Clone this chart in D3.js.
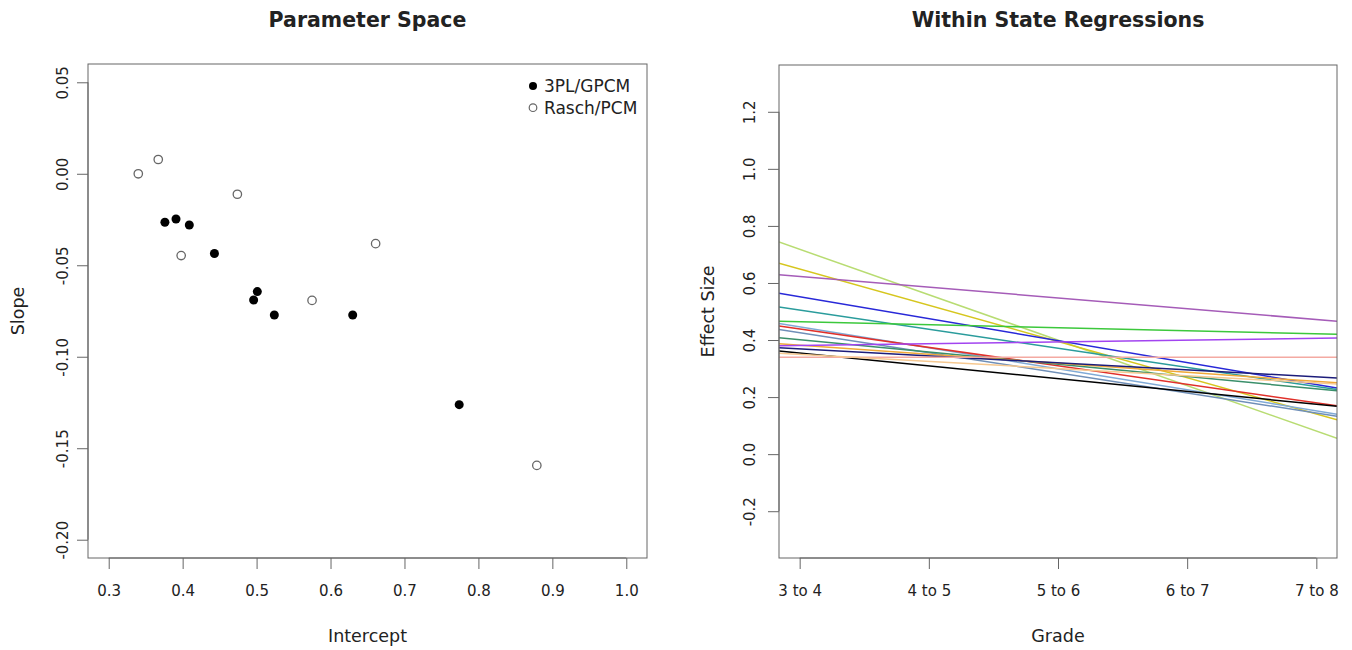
<!DOCTYPE html>
<html><head><meta charset="utf-8">
<script src="https://cdn.jsdelivr.net/npm/d3@7"></script>
<style>
body{margin:0;background:#fff;}
text{font-family:"DejaVu Sans",Verdana,sans-serif;fill:#222;}
</style></head>
<body><svg id="c" width="1352" height="650"></svg>
<script>
// ---- Left panel data: Parameter Space ----
const gpcmIntercept = [0.376,0.391,0.409,0.443,0.501,0.496,0.524,0.630,0.774];
const gpcmSlope     = [-0.0265,-0.0247,-0.0280,-0.0436,-0.0644,-0.0690,-0.0772,-0.0772,-0.1262];
const raschIntercept = [0.340,0.367,0.474,0.398,0.661,0.575,0.879];
const raschSlope     = [0.000,0.0078,-0.0112,-0.0447,-0.0382,-0.0692,-0.1594];
const leftXTicks = [0.3,0.4,0.5,0.6,0.7,0.8,0.9,1.0];
const leftYTicks = [0.05,0.00,-0.05,-0.10,-0.15,-0.20];
const legendLabels = ["3PL/GPCM","Rasch/PCM"];

// ---- Right panel data: Within State Regressions ----
const grades = ["3 to 4","4 to 5","5 to 6","6 to 7","7 to 8"];
const lineStart = [0.718,0.649,0.623,0.552,0.505,0.464,0.446,0.439,0.426,0.401,0.382,0.381,0.369,0.354,0.340,0.350]; // effect at "3 to 4"
const lineEnd   = [0.081,0.141,0.472,0.244,0.237,0.422,0.152,0.180,0.144,0.229,0.255,0.406,0.271,0.175,0.340,0.250]; // effect at "7 to 8"
const lineColors = ["#b8dc72","#d6c61e","#a55cb8","#2828d8","#2a9c9c","#3cc83c","#80aad6","#e0302a","#6f8fb8","#3a8f6a","#f0a838","#a244f0","#1c1c7a","#000000","#f4aaa2","#f6c890"];
const rightYTicks = [-0.2,0.0,0.2,0.4,0.6,0.8,1.0,1.2];

const svg = d3.select("#c");
const axisCol = "#666";
const hy = f => d => f(d).replace("\u2212","-");

function styleAxis(g){
  g.selectAll("path").attr("stroke",axisCol);
  g.selectAll("line").attr("stroke",axisCol);
  g.selectAll("text").attr("fill","#222").style("font-size","15px").style("font-family","'DejaVu Sans',Verdana,sans-serif");
}

// ===== Left panel =====
const L = {l:88,r:647,t:64,b:558};
const xL = d3.scaleLinear().domain([0.272,1.028]).range([L.l,L.r]);
const yL = d3.scaleLinear().domain([-0.21,0.06]).range([L.b,L.t]);

svg.append("rect").attr("x",L.l).attr("y",L.t).attr("width",L.r-L.l).attr("height",L.b-L.t)
  .attr("fill","none").attr("stroke",axisCol).attr("stroke-width",1);

const gxL = svg.append("g").attr("transform",`translate(0,${L.b})`)
  .call(d3.axisBottom(xL).tickValues(leftXTicks).tickFormat(d3.format(".1f")).tickSizeOuter(0).tickSizeInner(11).tickPadding(16));
styleAxis(gxL);
gxL.select("path.domain").attr("d",`M${xL(0.3)},0H${xL(1.0)}`);

const gyL = svg.append("g").attr("transform",`translate(${L.l},0)`)
  .call(d3.axisLeft(yL).tickValues(leftYTicks).tickFormat(hy(d3.format(".2f"))).tickSizeOuter(0).tickSizeInner(11));
styleAxis(gyL);
gyL.select("path.domain").attr("d",`M0,${yL(-0.20)}V${yL(0.05)}`);
gyL.selectAll(".tick text").attr("transform","rotate(-90)").attr("x",0).attr("y",-20).attr("dy",0).attr("text-anchor","middle");

svg.append("text").attr("x",(L.l+L.r)/2).attr("y",27).attr("text-anchor","middle")
  .style("font-weight","bold").style("font-size","20.5px").text("Parameter Space");
svg.append("text").attr("x",(L.l+L.r)/2).attr("y",642).attr("text-anchor","middle").style("font-size","17.5px").text("Intercept");
svg.append("text").attr("transform",`translate(24,${(L.t+L.b)/2}) rotate(-90)`).attr("text-anchor","middle").style("font-size","17.5px").text("Slope");

svg.append("g").selectAll("circle").data(d3.range(raschIntercept.length)).join("circle")
  .attr("cx",i=>xL(raschIntercept[i])).attr("cy",i=>yL(raschSlope[i])).attr("r",4.2)
  .attr("fill","#fff").attr("stroke","#666").attr("stroke-width",1.3);
svg.append("g").selectAll("circle").data(d3.range(gpcmIntercept.length)).join("circle")
  .attr("cx",i=>xL(gpcmIntercept[i])).attr("cy",i=>yL(gpcmSlope[i])).attr("r",4.5)
  .attr("fill","#000");

// legend
const lg = svg.append("g");
legendLabels.forEach((lab,i)=>{
  const cy = 86 + i*21.7;
  if(i===0) lg.append("circle").attr("cx",533).attr("cy",cy).attr("r",4).attr("fill","#000");
  else lg.append("circle").attr("cx",533).attr("cy",cy).attr("r",3.8).attr("fill","#fff").attr("stroke","#666").attr("stroke-width",1.2);
  lg.append("text").attr("x",544).attr("y",cy+6).style("font-size","17px").text(lab);
});

// ===== Right panel =====
const R = {l:779,r:1337,t:65,b:558};
const xR = d3.scaleLinear().domain([0.84,5.16]).range([R.l,R.r]);
const yR = d3.scaleLinear().domain([-0.364,1.364]).range([R.b,R.t]);

svg.append("defs").append("clipPath").attr("id","clipR").append("rect")
  .attr("x",R.l).attr("y",R.t).attr("width",R.r-R.l).attr("height",R.b-R.t);

const lg2 = svg.append("g").attr("clip-path","url(#clipR)");
lineStart.forEach((s,i)=>{
  const slope = (lineEnd[i]-s)/4;
  const f = x => s + slope*(x-1);
  const dom = xR.domain();
  lg2.append("path").datum(dom)
    .attr("d",d3.line().x(d=>xR(d)).y(d=>yR(f(d))))
    .attr("fill","none").attr("stroke",lineColors[i]).attr("stroke-width",1.5);
});

svg.append("rect").attr("x",R.l).attr("y",R.t).attr("width",R.r-R.l).attr("height",R.b-R.t)
  .attr("fill","none").attr("stroke",axisCol).attr("stroke-width",1);

const gxR = svg.append("g").attr("transform",`translate(0,${R.b})`)
  .call(d3.axisBottom(xR).tickValues([1,2,3,4,5]).tickFormat(d=>grades[d-1]).tickSizeOuter(0).tickSizeInner(11).tickPadding(16));
styleAxis(gxR);
gxR.select("path.domain").attr("d",`M${xR(1)},0H${xR(5)}`);

const gyR = svg.append("g").attr("transform",`translate(${R.l},0)`)
  .call(d3.axisLeft(yR).tickValues(rightYTicks).tickFormat(hy(d3.format(".1f"))).tickSizeOuter(0).tickSizeInner(11));
styleAxis(gyR);
gyR.select("path.domain").attr("d",`M0,${yR(-0.2)}V${yR(1.2)}`);
gyR.selectAll(".tick text").attr("transform","rotate(-90)").attr("x",0).attr("y",-24).attr("dy",0).attr("text-anchor","middle");

svg.append("text").attr("x",(R.l+R.r)/2).attr("y",27).attr("text-anchor","middle")
  .style("font-weight","bold").style("font-size","20.5px").text("Within State Regressions");
svg.append("text").attr("x",(R.l+R.r)/2).attr("y",642).attr("text-anchor","middle").style("font-size","17.5px").text("Grade");
svg.append("text").attr("transform",`translate(714,${(R.t+R.b)/2}) rotate(-90)`).attr("text-anchor","middle").style("font-size","17.5px").text("Effect Size");
</script></body></html>
